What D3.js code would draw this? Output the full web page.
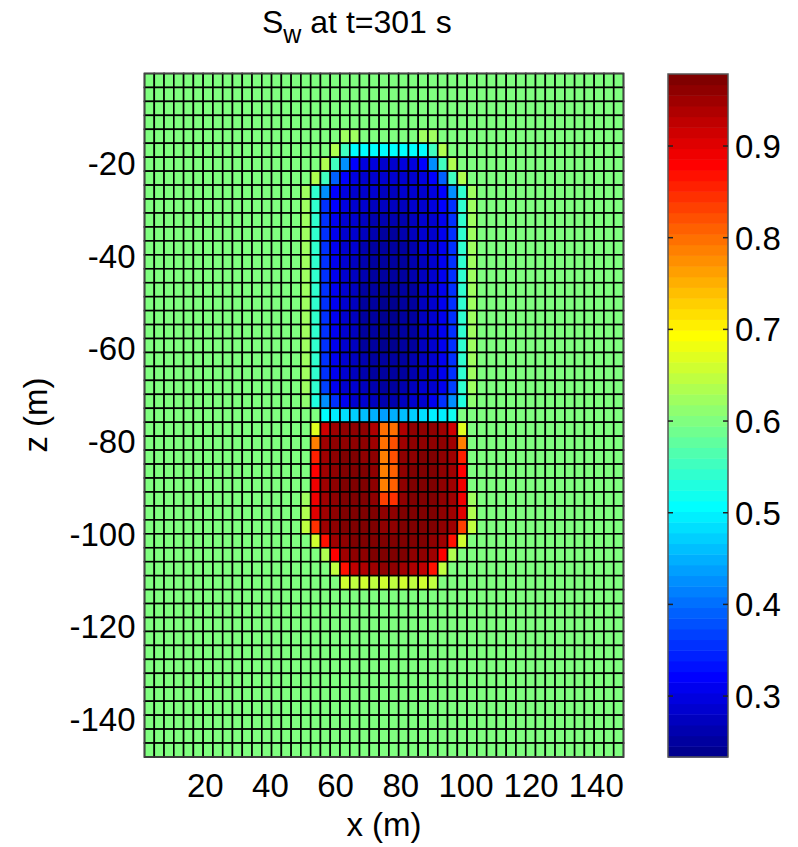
<!DOCTYPE html>
<html><head><meta charset="utf-8">
<script src="https://cdn.jsdelivr.net/npm/d3@7"></script>
<style>body{margin:0;background:#fff} text{font-family:"Liberation Sans",Arial,Helvetica,sans-serif;fill:#000}</style>
</head><body><svg id="c" width="798" height="847"></svg>
<script>
// ---- data ----
const xTicks = [20, 40, 60, 80, 100, 120, 140];
const zTicks = [-20, -40, -60, -80, -100, -120, -140];
const cTicks = [0.3, 0.4, 0.5, 0.6, 0.7, 0.8, 0.9];
const xRange = [1.5, 148.5];
const zRange = [-148.4, -0.7];
const cRange = [0.233, 0.978];
const nCols = 49, nRows = 49;
const background = 0.60;
const blobTop = 4, blobLeft = 16;   // first row / column of the plume block
const blobRows = [
 [0.60,0.60,0.60,0.60,0.625,0.625,0.60,0.60,0.60,0.60,0.60,0.60,0.625,0.625,0.60,0.60,0.60,0.60],
 [0.60,0.60,0.60,0.64,0.55,0.51,0.51,0.51,0.51,0.51,0.51,0.51,0.51,0.55,0.64,0.60,0.60,0.60],
 [0.60,0.60,0.64,0.55,0.42,0.32,0.30,0.30,0.29,0.29,0.30,0.30,0.32,0.42,0.55,0.64,0.60,0.60],
 [0.60,0.64,0.55,0.39,0.32,0.30,0.29,0.28,0.28,0.28,0.28,0.29,0.30,0.32,0.39,0.55,0.64,0.60],
 [0.625,0.54,0.42,0.32,0.30,0.29,0.28,0.28,0.27,0.27,0.28,0.28,0.29,0.30,0.32,0.42,0.54,0.625],
 [0.625,0.54,0.36,0.32,0.30,0.29,0.28,0.27,0.27,0.27,0.27,0.28,0.29,0.30,0.32,0.36,0.54,0.625],
 [0.625,0.54,0.36,0.31,0.29,0.28,0.27,0.265,0.26,0.26,0.265,0.27,0.28,0.29,0.31,0.36,0.54,0.625],
 [0.625,0.54,0.36,0.31,0.29,0.28,0.27,0.26,0.255,0.255,0.26,0.27,0.28,0.29,0.31,0.36,0.54,0.625],
 [0.625,0.54,0.36,0.31,0.29,0.28,0.265,0.255,0.25,0.25,0.255,0.265,0.28,0.29,0.31,0.36,0.54,0.625],
 [0.625,0.54,0.36,0.31,0.29,0.275,0.26,0.25,0.245,0.245,0.25,0.26,0.275,0.29,0.31,0.36,0.54,0.625],
 [0.625,0.54,0.36,0.31,0.29,0.275,0.26,0.25,0.245,0.245,0.25,0.26,0.275,0.29,0.31,0.36,0.54,0.625],
 [0.625,0.54,0.36,0.31,0.285,0.27,0.255,0.245,0.24,0.24,0.245,0.255,0.27,0.285,0.31,0.36,0.54,0.625],
 [0.625,0.54,0.36,0.31,0.285,0.27,0.255,0.245,0.24,0.24,0.245,0.255,0.27,0.285,0.31,0.36,0.54,0.625],
 [0.625,0.54,0.36,0.31,0.285,0.27,0.255,0.245,0.24,0.24,0.245,0.255,0.27,0.285,0.31,0.36,0.54,0.625],
 [0.625,0.54,0.36,0.31,0.285,0.27,0.255,0.245,0.24,0.24,0.245,0.255,0.27,0.285,0.31,0.36,0.54,0.625],
 [0.625,0.54,0.36,0.31,0.285,0.27,0.255,0.245,0.24,0.24,0.245,0.255,0.27,0.285,0.31,0.36,0.54,0.625],
 [0.625,0.54,0.36,0.31,0.29,0.275,0.26,0.25,0.245,0.245,0.25,0.26,0.275,0.29,0.31,0.36,0.54,0.625],
 [0.625,0.54,0.36,0.31,0.29,0.275,0.26,0.25,0.245,0.245,0.25,0.26,0.275,0.29,0.31,0.36,0.54,0.625],
 [0.625,0.54,0.37,0.31,0.29,0.28,0.27,0.26,0.255,0.255,0.26,0.27,0.28,0.29,0.31,0.37,0.54,0.625],
 [0.61,0.53,0.42,0.36,0.31,0.29,0.28,0.27,0.265,0.265,0.27,0.28,0.29,0.31,0.36,0.42,0.53,0.61],
 [0.60,0.60,0.51,0.49,0.48,0.47,0.46,0.45,0.44,0.45,0.46,0.47,0.48,0.49,0.50,0.52,0.60,0.60],
 [0.60,0.67,0.91,0.95,0.955,0.96,0.955,0.935,0.80,0.80,0.94,0.955,0.96,0.955,0.95,0.91,0.67,0.60],
 [0.60,0.785,0.95,0.96,0.965,0.965,0.96,0.95,0.80,0.82,0.95,0.96,0.965,0.965,0.96,0.95,0.785,0.60],
 [0.60,0.855,0.95,0.96,0.97,0.97,0.965,0.955,0.79,0.82,0.955,0.965,0.97,0.97,0.96,0.95,0.855,0.60],
 [0.60,0.878,0.95,0.965,0.97,0.975,0.97,0.96,0.785,0.81,0.96,0.97,0.975,0.97,0.965,0.95,0.878,0.60],
 [0.60,0.89,0.95,0.965,0.97,0.975,0.97,0.96,0.79,0.81,0.96,0.97,0.975,0.97,0.965,0.95,0.89,0.60],
 [0.62,0.895,0.95,0.965,0.97,0.975,0.975,0.965,0.83,0.845,0.965,0.975,0.975,0.97,0.965,0.95,0.895,0.62],
 [0.64,0.90,0.95,0.965,0.97,0.975,0.975,0.97,0.965,0.965,0.97,0.975,0.975,0.97,0.965,0.95,0.90,0.64],
 [0.65,0.843,0.95,0.96,0.97,0.975,0.975,0.97,0.965,0.965,0.97,0.975,0.975,0.97,0.96,0.95,0.83,0.65],
 [0.60,0.66,0.866,0.95,0.965,0.97,0.975,0.975,0.97,0.97,0.975,0.975,0.97,0.965,0.95,0.866,0.66,0.60],
 [0.60,0.60,0.635,0.878,0.95,0.96,0.965,0.97,0.97,0.97,0.97,0.965,0.96,0.95,0.878,0.635,0.60,0.60],
 [0.60,0.60,0.60,0.65,0.866,0.925,0.94,0.95,0.955,0.955,0.95,0.94,0.925,0.866,0.65,0.60,0.60,0.60],
 [0.60,0.60,0.60,0.60,0.657,0.646,0.657,0.646,0.657,0.646,0.657,0.646,0.657,0.646,0.60,0.60,0.60,0.60]
];

// ---- MATLAB jet(64) colormap ----
function jet(m) {
  const n = Math.ceil(m / 4), u = [];
  for (let i = 1; i <= n; i++) u.push(i / n);
  for (let i = 1; i < n; i++) u.push(1);
  for (let i = n; i >= 1; i--) u.push(i / n);
  const off = Math.ceil(n / 2) - (m % 4 === 1 ? 1 : 0);
  const J = d3.range(m).map(() => [0, 0, 0]);
  const L = u.length;
  for (let i = 1; i <= L; i++) {
    const g = off + i;
    if (g >= 1 && g <= m) J[g - 1][1] = u[i - 1];
  }
  const rs = []; for (let i = 1; i <= L; i++) { const r = off + i + n; if (r <= m) rs.push(r); }
  rs.forEach((r, k) => J[r - 1][0] = u[k]);
  const bs = []; for (let i = 1; i <= L; i++) { const b = off + i - n; if (b >= 1) bs.push(b); }
  bs.forEach((b, k) => J[b - 1][2] = u[L - bs.length + k]);
  return J.map(c => d3.rgb(c[0] * 255, c[1] * 255, c[2] * 255).toString());
}
const cmap = jet(64);
function colorOf(v) {
  let k = Math.floor((v - cRange[0]) / (cRange[1] - cRange[0]) * 64);
  k = Math.max(0, Math.min(63, k));
  return cmap[k];
}

// ---- build grid values ----
const cells = [];
for (let j = 0; j < nRows; j++) {
  for (let i = 0; i < nCols; i++) {
    let v = background;
    const bj = j - blobTop, bi = i - blobLeft;
    if (bj >= 0 && bj < blobRows.length && bi >= 0 && bi < blobRows[bj].length) v = blobRows[bj][bi];
    cells.push({i, j, v});
  }
}

// ---- layout ----
const svg = d3.select("#c");
const plot = {left: 144.5, right: 623.5, top: 73.5, bottom: 757};
const x = d3.scaleLinear().domain(xRange).range([plot.left, plot.right]);
const z = d3.scaleLinear().domain([zRange[1], zRange[0]]).range([plot.top, plot.bottom]);
const dx = (xRange[1] - xRange[0]) / nCols, dz = (zRange[1] - zRange[0]) / nRows;
const fmt = d => String(d);

svg.append("g").selectAll("rect").data(cells).join("rect")
  .attr("x", d => x(xRange[0] + d.i * dx))
  .attr("y", d => z(zRange[1] - d.j * dz))
  .attr("width", d => x(xRange[0] + (d.i + 1) * dx) - x(xRange[0] + d.i * dx))
  .attr("height", d => z(zRange[1] - (d.j + 1) * dz) - z(zRange[1] - d.j * dz))
  .attr("fill", d => colorOf(d.v))
  .attr("stroke", "#000").attr("stroke-width", 1.6);

svg.append("rect").attr("x", plot.left).attr("y", plot.top)
  .attr("width", plot.right - plot.left).attr("height", plot.bottom - plot.top)
  .attr("fill", "none").attr("stroke", "#444").attr("stroke-width", 1.5);

const fs = 33;
// x axis
const xa = svg.append("g").attr("transform", `translate(0,${plot.bottom})`)
  .call(d3.axisBottom(x).tickValues(xTicks).tickSize(0).tickPadding(0).tickFormat(fmt));
xa.select(".domain").remove();
xa.selectAll("text").attr("font-size", fs).attr("dy", null).attr("y", 40)
  .style("font-family", '"Liberation Sans",Arial,sans-serif').attr("fill", "#000");
// z axis
const za = svg.append("g").attr("transform", `translate(${plot.left},0)`)
  .call(d3.axisLeft(z).tickValues(zTicks).tickSize(0).tickPadding(0).tickFormat(fmt));
za.select(".domain").remove();
za.selectAll("text").attr("font-size", fs).attr("dy", null).attr("x", -9).attr("y", 12)
  .style("font-family", '"Liberation Sans",Arial,sans-serif').attr("fill", "#000");

// axis labels
svg.append("text").attr("x", (plot.left + plot.right) / 2).attr("y", 836)
  .attr("text-anchor", "middle").attr("font-size", fs).text("x (m)");
svg.append("text").attr("transform", "translate(47,415) rotate(-90)")
  .attr("text-anchor", "middle").attr("font-size", fs).text("z (m)");

// title
const title = svg.append("text").attr("x", 262).attr("y", 33).attr("font-size", 32);
title.append("tspan").text("S");
title.append("tspan").attr("font-size", 25).attr("dy", 10).text("w");
title.append("tspan").attr("dy", -10).text(" at t=301 s");

// colorbar
const cb = {left: 668, right: 728, top: 74, bottom: 757};
const cy = d3.scaleLinear().domain(cRange).range([cb.bottom, cb.top]);
const step = (cRange[1] - cRange[0]) / 64;
svg.append("g").selectAll("rect").data(d3.range(64)).join("rect")
  .attr("x", cb.left).attr("width", cb.right - cb.left)
  .attr("y", k => cy(cRange[0] + (k + 1) * step))
  .attr("height", k => cy(cRange[0] + k * step) - cy(cRange[0] + (k + 1) * step) + 0.5)
  .attr("fill", k => cmap[k]);
svg.append("rect").attr("x", cb.left).attr("y", cb.top)
  .attr("width", cb.right - cb.left).attr("height", cb.bottom - cb.top)
  .attr("fill", "none").attr("stroke", "#555").attr("stroke-width", 1.5);
const cbAxis = svg.append("g").attr("transform", `translate(${cb.right},0)`)
  .call(d3.axisRight(cy).tickValues(cTicks).tickSize(-5).tickPadding(0).tickFormat(d3.format(".1f")));
cbAxis.select(".domain").remove();
cbAxis.selectAll("line").attr("stroke", "#222").attr("stroke-width", 1.5);
cbAxis.selectAll("text").attr("font-size", fs).attr("dy", null).attr("x", 7).attr("y", 12)
  .style("font-family", '"Liberation Sans",Arial,sans-serif').attr("fill", "#000");
const cbAxisL = svg.append("g").attr("transform", `translate(${cb.left},0)`)
  .call(d3.axisLeft(cy).tickValues(cTicks).tickSize(-5).tickFormat(""));
cbAxisL.select(".domain").remove();
cbAxisL.selectAll("line").attr("stroke", "#222").attr("stroke-width", 1.5);
</script></body></html>
